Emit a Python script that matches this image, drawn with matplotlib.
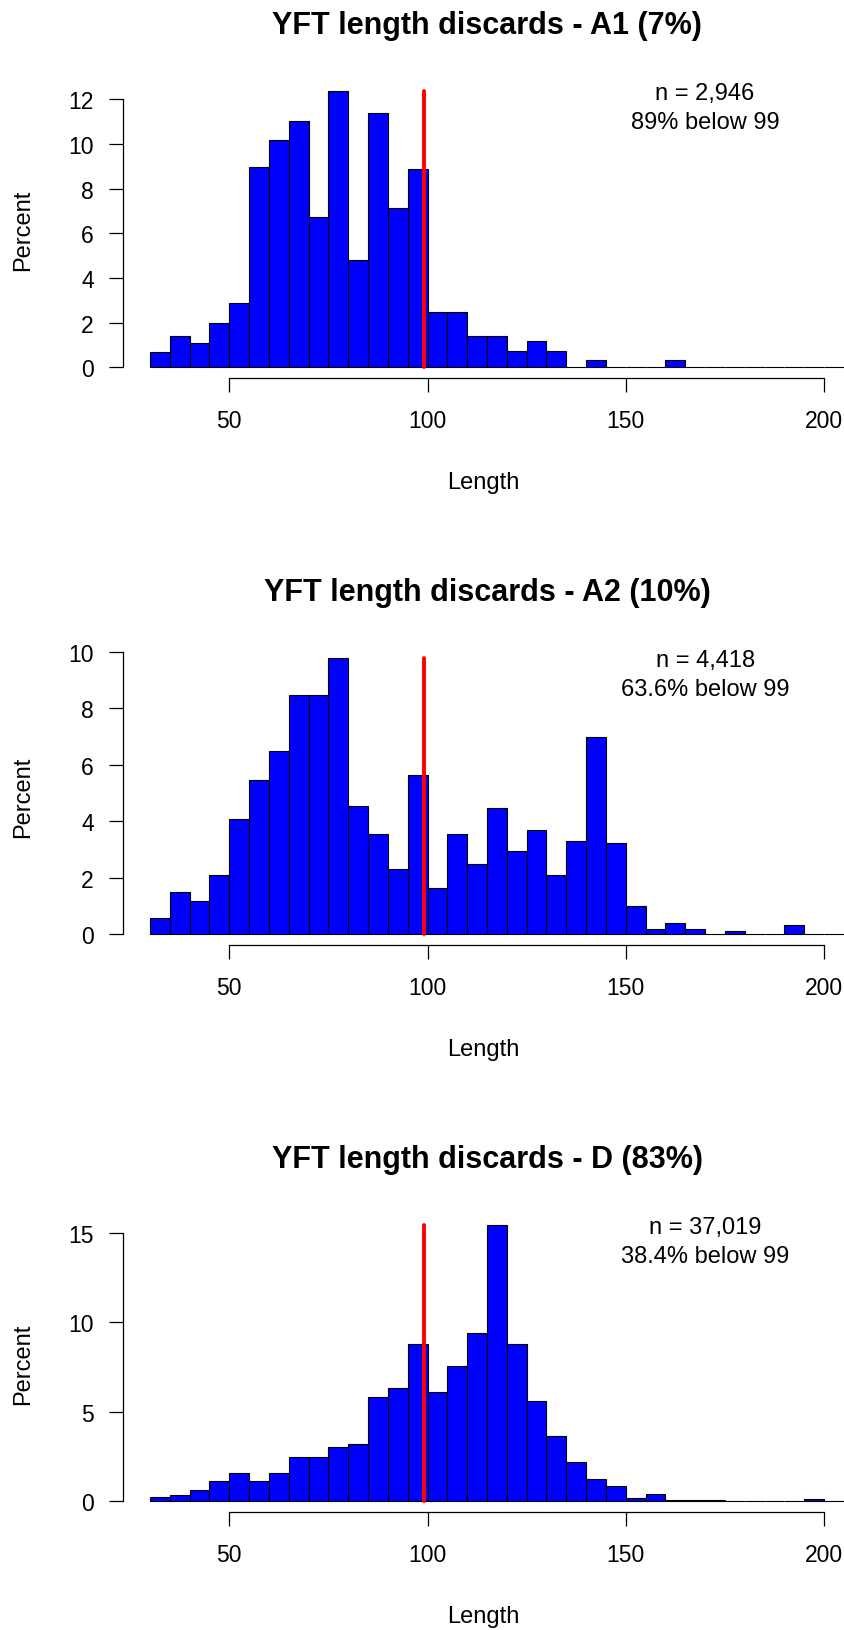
import numpy as np
import matplotlib
matplotlib.use("Agg")
import matplotlib.pyplot as plt
import matplotlib.transforms as mtransforms

plt.rcParams['font.family'] = ['Liberation Sans', 'DejaVu Sans']

# 5 cm length bins, 30 .. 210
bin_edges = np.arange(30, 215, 5)

# percent of fish per bin
pct_a1 = [0.67, 1.42, 1.07, 1.98, 2.89, 8.96, 10.2, 11.02, 6.72, 12.36,
          4.80, 11.37, 7.13, 8.88, 2.47, 2.47, 1.40, 1.40, 0.75, 1.16,
          0.75, 0, 0.33, 0, 0, 0, 0.33, 0, 0, 0,
          0, 0, 0, 0, 0, 0]
pct_a2 = [0.59, 1.51, 1.18, 2.10, 4.07, 5.45, 6.49, 8.46, 8.46, 9.76,
          4.53, 3.54, 2.30, 5.65, 1.65, 3.54, 2.50, 4.47, 2.96, 3.68,
          2.10, 3.29, 6.96, 3.22, 1.00, 0.20, 0.40, 0.20, 0, 0.13,
          0, 0, 0.33, 0, 0, 0]
pct_d = [0.22, 0.33, 0.63, 1.13, 1.56, 1.13, 1.56, 2.49, 2.49, 3.01,
         3.22, 5.80, 6.32, 8.79, 6.12, 7.55, 9.41, 15.41, 8.79, 5.59,
         3.62, 2.17, 1.25, 0.84, 0.20, 0.43, 0.08, 0.08, 0.08, 0,
         0, 0, 0, 0.10, 0, 0]

titles = ['YFT length discards - A1 (7%)',
          'YFT length discards - A2 (10%)',
          'YFT length discards - D (83%)']
n_labels = ['n = 2,946', 'n = 4,418', 'n = 37,019']
below_labels = ['89% below 99', '63.6% below 99', '38.4% below 99']
yticks = [[0, 2, 4, 6, 8, 10, 12],
          [0, 2, 4, 6, 8, 10],
          [0, 5, 10, 15]]
xticks = [50, 100, 150, 200]
cutoff = 99
xlim = (30, 200)

W, H = 844, 1631
fig = plt.figure(figsize=(W / 100, H / 100), dpi=100)

left = 123 / W
width = (851 - 123) / W
height = 298 / H
bottoms = [(H - 379.3) / H, (H - 946.3) / H, (H - 1513.3) / H]

for i, pct in enumerate([pct_a1, pct_a2, pct_d]):
    ax = fig.add_axes([left, bottoms[i], width, height])
    ax.bar(bin_edges[:-1], pct, width=5, align='edge', color='#0000ff',
           edgecolor='black', linewidth=0.8)
    top = max(pct)
    ax.plot([cutoff, cutoff], [0, top], color='red', lw=2.8,
            solid_capstyle='round', zorder=5)

    # R-style 4% padding
    xr = xlim[1] - xlim[0]
    ax.set_xlim(xlim[0] - 0.04 * xr, xlim[1] + 0.04 * xr)
    ax.set_ylim(-0.04 * top, top * 1.04)

    for s in ['top', 'right']:
        ax.spines[s].set_visible(False)
    ax.spines['left'].set_bounds(yticks[i][0], yticks[i][-1])
    ax.spines['bottom'].set_bounds(xticks[0], xticks[-1])
    for s in ['left', 'bottom']:
        ax.spines[s].set_linewidth(0.9)

    ax.set_xticks(xticks)
    ax.set_yticks(yticks[i])
    ax.tick_params(axis='both', direction='out', length=10, width=0.9,
                   labelsize=16.5)
    ax.tick_params(axis='x', pad=12)
    ax.tick_params(axis='y', pad=11)

    ax.set_title(titles[i], fontsize=22, fontweight='bold', pad=34)
    ax.set_xlabel('Length', fontsize=17)
    ax.xaxis.label.set_va('center')
    ax.xaxis.set_label_coords(0.495, -0.348)
    ax.set_ylabel('Percent', fontsize=17)
    ax.yaxis.label.set_va('center')
    ax.yaxis.set_label_coords(-0.137, 0.5)

    trans = mtransforms.blended_transform_factory(ax.transData, ax.transAxes)
    ax.text(170, 0.956, n_labels[i], transform=trans, ha='center',
            va='center', fontsize=17)
    ax.text(170, 0.859, below_labels[i], transform=trans, ha='center',
            va='center', fontsize=17)

fig.savefig('out.png', dpi=100)
